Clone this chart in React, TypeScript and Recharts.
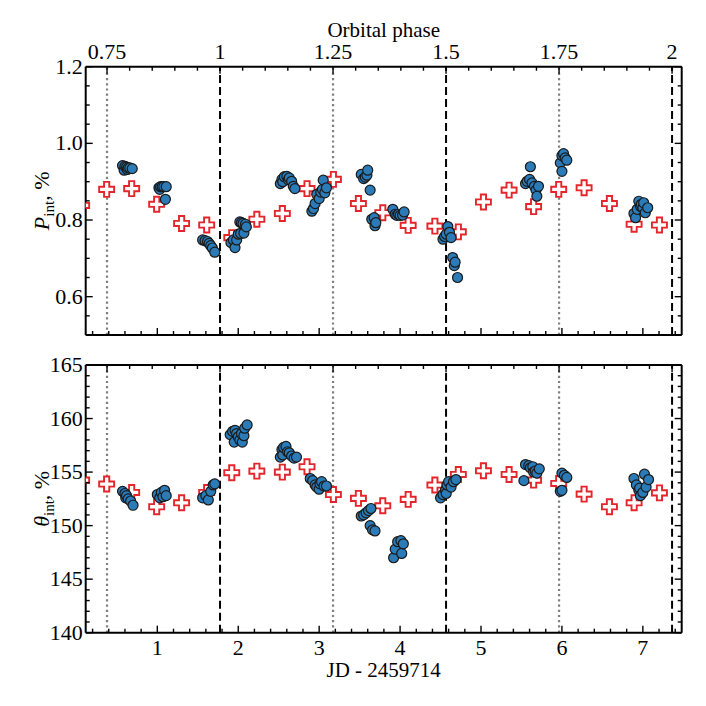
import { ScatterChart, Scatter, XAxis, YAxis, ReferenceLine } from 'recharts';

// time axis (JD - 2459714) and orbital ephemeris
const jdDomain = [0.115, 7.48];
const epochJD = 1.775; // phase 1.0
const period = 5.586;

const phaseDashed = [1, 1.5, 2];
const phaseDotted = [0.75, 1.25, 1.75];

// model (red crosses), same epochs in both panels
const modelJD = [0.065, 0.374, 0.683, 0.992, 1.3, 1.61, 1.92, 2.23, 2.545, 2.85, 3.176, 3.485, 3.786, 4.1, 4.43, 4.72, 5.03, 5.347, 5.65, 5.96, 6.274, 6.587, 6.892, 7.205];
const modelP = [0.838, 0.88, 0.882, 0.841, 0.791, 0.787, 0.754, 0.802, 0.817, 0.882, 0.906, 0.843, 0.819, 0.786, 0.784, 0.769, 0.847, 0.878, 0.835, 0.88, 0.884, 0.843, 0.789, 0.787];
const modelTheta = [154.25, 153.88, 153.1, 151.76, 152.13, 153.1, 154.94, 155.09, 155.0, 155.5, 152.9, 152.54, 151.85, 152.45, 153.79, 154.78, 155.12, 154.78, 154.25, 153.94, 152.94, 151.76, 152.13, 153.06];

// observed polarization degree
const obsPJD = [
  0.57, 0.59, 0.6, 0.62, 0.63, 0.64, 0.66, 0.69,
  1.02, 1.03, 1.04, 1.06, 1.08, 1.1, 1.11,
  1.56, 1.59, 1.62, 1.64, 1.66, 1.68, 1.71,
  1.91, 1.94, 1.96, 1.98, 2.0, 2.02, 2.03, 2.04, 2.06, 2.07, 2.09, 2.1,
  2.52, 2.54, 2.55, 2.57, 2.6, 2.62, 2.63, 2.66, 2.68, 2.7,
  2.91, 2.93, 2.95, 2.97, 3.0, 3.02, 3.04, 3.05, 3.07, 3.09,
  3.52, 3.55, 3.57, 3.59, 3.6, 3.63,
  3.65, 3.68, 3.69, 3.7,
  3.91, 3.94, 3.96, 3.98, 4.0, 4.03, 4.05,
  4.53, 4.55, 4.57, 4.59, 4.61, 4.63, 4.65, 4.67, 4.68, 4.71,
  5.55, 5.57, 5.6, 5.61, 5.63, 5.66, 5.68, 5.69, 5.71,
  5.98, 6.0, 6.0, 6.02, 6.04, 6.06,
  6.89, 6.91, 6.93, 6.95, 6.97, 6.98, 7.0, 7.01, 7.03, 7.06,
];
const obsP = [
  0.942, 0.93, 0.94, 0.938, 0.932, 0.936, 0.936, 0.934,
  0.884, 0.88, 0.887, 0.887, 0.887, 0.854, 0.887,
  0.748, 0.746, 0.744, 0.739, 0.733, 0.727, 0.716,
  0.741, 0.748, 0.728, 0.748, 0.763, 0.795, 0.765, 0.793, 0.791, 0.766, 0.789, 0.782,
  0.895, 0.906, 0.9, 0.913, 0.914, 0.905, 0.91, 0.901, 0.888, 0.882,
  0.823, 0.83, 0.843, 0.867, 0.856, 0.873, 0.88, 0.904, 0.871, 0.884,
  0.919, 0.908, 0.912, 0.917, 0.93, 0.878,
  0.802, 0.806, 0.785, 0.793,
  0.828, 0.815, 0.812, 0.815, 0.812, 0.813, 0.821,
  0.75, 0.757, 0.763, 0.783, 0.768, 0.754, 0.702, 0.681, 0.69, 0.65,
  0.895, 0.901, 0.906, 0.939, 0.897, 0.888, 0.878, 0.862, 0.888,
  0.949, 0.927, 0.968, 0.973, 0.962, 0.956,
  0.817, 0.806, 0.828, 0.849, 0.836, 0.841, 0.832, 0.845, 0.819, 0.832,
];

// observed polarization angle
const obsThetaJD = [
  0.57, 0.6, 0.61, 0.62, 0.64, 0.67, 0.7,
  1.0, 1.03, 1.05, 1.07, 1.09, 1.11,
  1.56, 1.6, 1.63, 1.66, 1.69, 1.71,
  1.9, 1.93, 1.95, 1.96, 1.98, 2.0, 2.02, 2.04, 2.05, 2.07, 2.08, 2.11,
  2.52, 2.54, 2.55, 2.56, 2.59, 2.61, 2.63, 2.66, 2.69, 2.72,
  2.89, 2.92, 2.95, 2.97, 3.0, 3.01, 3.03, 3.06, 3.09,
  3.52, 3.55, 3.58, 3.61, 3.64,
  3.63, 3.66, 3.69,
  3.92, 3.94, 3.97, 4.01, 4.02, 4.04,
  4.5, 4.53, 4.56, 4.57, 4.58, 4.6, 4.63, 4.66, 4.69,
  5.53, 5.55, 5.59, 5.61, 5.64, 5.65, 5.67, 5.69, 5.72,
  5.98, 6.0, 6.0, 6.03, 6.06,
  6.89, 6.92, 6.95, 6.96, 6.97, 7.0, 7.02, 7.04, 7.07,
];
const obsTheta = [
  153.2, 153.0, 152.6, 152.8, 152.5, 152.3, 151.9,
  152.9, 152.6, 153.1, 152.7, 153.3, 152.8,
  152.6, 152.8, 152.4, 153.2, 153.8, 153.9,
  158.5, 158.8, 157.8, 158.9, 158.6, 158.3, 158.0, 158.6, 157.8, 158.4, 159.1, 159.4,
  156.4, 157.1, 156.6, 157.3, 157.4, 156.9, 156.8, 156.5, 156.3, 156.4,
  154.4, 154.2, 153.8, 153.6, 153.4, 153.9, 154.1, 153.7, 153.7,
  150.9, 151.0, 151.2, 151.4, 151.6,
  150.0, 149.6, 149.5,
  147.0, 147.8, 148.5, 148.6, 147.4, 148.3,
  152.6, 152.9, 153.3, 153.0, 153.8, 154.1, 153.6, 154.1, 154.3,
  154.2, 155.7, 155.6, 155.4, 155.5, 155.0, 155.1, 154.9, 155.3,
  153.2, 153.3, 154.9, 154.7, 154.5,
  154.4, 153.8, 153.3, 153.5, 152.8, 153.1, 154.8, 153.6, 154.3,
];

const pDomain = [0.5, 1.2];
const thetaDomain = [140, 165];

const rows = (xs: number[], ys: number[]) => xs.map((jd, i) => ({ jd, v: ys[i] }));
const steps = (from: number, to: number, step: number) => {
  const out: number[] = [];
  for (let k = 0; from + k * step <= to + 1e-9; k++) out.push(Math.round((from + k * step) * 1000) / 1000);
  return out;
};

// phase <-> JD through the ephemeris
const phaseToJD = (ph: number) => epochJD + (ph - 1) * period;
const jdToPhase = (jd: number) => Math.round((1 + (jd - epochJD) / period) * 1000) / 1000;

const jdTicks = steps(0.2, 7.4, 0.2);
const phaseTicks = steps(0.75, 2.0, 0.05).map(phaseToJD);
const pTicks = steps(0.5, 1.2, 0.05);
const thetaTicks = steps(140, 165, 1);

const FONT = '"Liberation Serif", "Times New Roman", serif';
const BLUE = '#2a7bb8';
const RED = '#e3262c';

const near = (v: number, m: number) => Math.abs(v / m - Math.round(v / m)) < 1e-6;

const Tick = (props: any) => {
  const { x, y, payload, side, major, labels, fmt, conv } = props;
  const v = conv ? conv(payload.value) : payload.value;
  const big = near(v, major);
  const len = big ? 7 : 4;
  let line;
  let text = null;
  if (side === 'bottom') {
    line = <line x1={x} y1={y} x2={x} y2={y - len} />;
    if (labels && big) text = <text x={x} y={y + 22} textAnchor="middle">{fmt(v)}</text>;
  } else if (side === 'top') {
    line = <line x1={x} y1={y} x2={x} y2={y + len} />;
    if (labels && big) text = <text x={x} y={y - 8} textAnchor="middle">{fmt(v)}</text>;
  } else if (side === 'left') {
    line = <line x1={x} y1={y} x2={x + len} y2={y} />;
    if (labels && big) text = <text x={x - 3} y={y + 7} textAnchor="end">{fmt(v)}</text>;
  } else {
    line = <line x1={x} y1={y} x2={x - len} y2={y} />;
  }
  return (
    <g stroke="#000" strokeWidth={1.4} fill="#000" fontFamily={FONT} fontSize={22}>
      {line}
      {text && <g stroke="none">{text}</g>}
    </g>
  );
};

const Dot = (p: any) => (
  <circle cx={p.cx} cy={p.cy} r={5} fill={BLUE} stroke="#1a1a1a" strokeWidth={1.2} />
);

const Plus = (p: any) => {
  const { cx, cy } = p;
  const s = 7.5;
  const a = 2.6;
  const d = `M${cx - a},${cy - s}H${cx + a}V${cy - a}H${cx + s}V${cy + a}H${cx + a}V${cy + s}H${cx - a}V${cy + a}H${cx - s}V${cy - a}H${cx - a}Z`;
  return <path d={d} fill="#fff" stroke={RED} strokeWidth={1.9} />;
};

const Nothing = () => <g />;

const YTitle = ({ viewBox, sym }: any) => {
  if (!viewBox) return null;
  const x = viewBox.x + viewBox.width - 37;
  const y = viewBox.y + viewBox.height / 2;
  return (
    <text transform={`translate(${x},${y}) rotate(-90)`} textAnchor="middle" fontFamily={FONT} fontSize={22} fill="#000">
      <tspan fontStyle="italic">{sym}</tspan>
      <tspan fontSize={15} dy={5}>int</tspan>
      <tspan dy={-5}>, %</tspan>
    </text>
  );
};

const XTitle = ({ viewBox, text, dy }: any) => {
  if (!viewBox) return null;
  return (
    <text x={viewBox.x + viewBox.width / 2} y={viewBox.y + dy} textAnchor="middle" fontFamily={FONT} fontSize={21} fill="#000">
      {text}
    </text>
  );
};

const axisLine = { stroke: '#000', strokeWidth: 2 };

const Panel = ({ height, margin, domain, ticks, major, fmt, obs, model, sym, top }: any) => (
  <ScatterChart width={706} height={height} margin={margin}>
    <XAxis
      xAxisId="jd" dataKey="jd" type="number" orientation="bottom" domain={jdDomain} allowDataOverflow
      ticks={jdTicks} interval={0} height={top ? 10 : 30} tickSize={0} tickMargin={0} tickLine={false} axisLine={axisLine}
      tick={<Tick side="bottom" major={1} labels={!top} fmt={(v: number) => String(v)} />}
      label={top ? undefined : (p: any) => <XTitle viewBox={p.viewBox} text="JD - 2459714" dy={44} />}
    />
    <XAxis
      xAxisId="phase" dataKey="jd" type="number" orientation="top" domain={jdDomain} allowDataOverflow
      ticks={phaseTicks} interval={0} height={top ? 30 : 10} tickSize={0} tickMargin={0} tickLine={false} axisLine={axisLine}
      tick={<Tick side="top" major={0.25} labels={top} conv={jdToPhase} fmt={(v: number) => String(v)} />}
      label={top ? (p: any) => <XTitle viewBox={p.viewBox} text="Orbital phase" dy={0} /> : undefined}
    />
    <YAxis
      yAxisId="left" dataKey="v" type="number" domain={domain} allowDataOverflow
      ticks={ticks} interval={0} width={50} tickSize={0} tickMargin={0} tickLine={false} axisLine={axisLine}
      tick={<Tick side="left" major={major} labels fmt={fmt} />}
      label={(p: any) => <YTitle viewBox={p.viewBox} sym={sym} />}
    />
    <YAxis
      yAxisId="right" orientation="right" type="number" domain={domain} allowDataOverflow
      ticks={ticks} interval={0} width={10} tickSize={0} tickMargin={0} tickLine={false} axisLine={axisLine}
      tick={<Tick side="right" major={major} fmt={fmt} />}
    />
    {phaseDotted.map((ph) => (
      <ReferenceLine key={`d${ph}`} xAxisId="jd" yAxisId="left" x={phaseToJD(ph)} stroke="#808080" strokeWidth={2.2} strokeDasharray="2.2 3" />
    ))}
    {phaseDashed.map((ph) => (
      <ReferenceLine key={`s${ph}`} xAxisId="jd" yAxisId="left" x={phaseToJD(ph)} stroke="#000" strokeWidth={2} strokeDasharray="8 4" />
    ))}
    <Scatter xAxisId="phase" yAxisId="left" data={model} shape={Nothing} isAnimationActive={false} />
    <Scatter xAxisId="jd" yAxisId="left" data={model} shape={Plus} isAnimationActive={false} />
    <Scatter xAxisId="jd" yAxisId="left" data={obs} shape={Dot} isAnimationActive={false} />
  </ScatterChart>
);

export default function App() {
  return (
    <div style={{ position: 'absolute', left: 0, top: 0, width: 706, height: 706, background: '#fff' }}>
      <Panel
        top height={345} margin={{ top: 36.7, left: 35.7, right: 14.3, bottom: 0 }}
        domain={pDomain} ticks={pTicks} major={0.2} fmt={(v: number) => v.toFixed(1)}
        obs={rows(obsPJD, obsP)} model={rows(modelJD, modelP)} sym="P"
      />
      <Panel
        height={361} margin={{ top: 10, left: 35.7, right: 14.3, bottom: 43.3 }}
        domain={thetaDomain} ticks={thetaTicks} major={5} fmt={(v: number) => String(v)}
        obs={rows(obsThetaJD, obsTheta)} model={rows(modelJD, modelTheta)} sym="θ"
      />
    </div>
  );
}
